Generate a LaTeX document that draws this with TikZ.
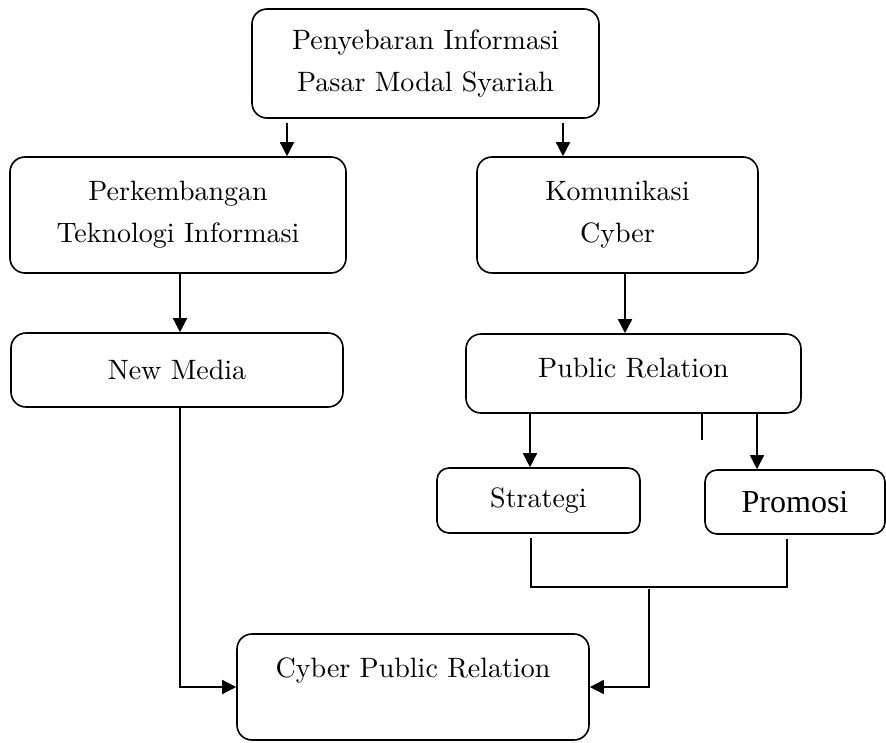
\documentclass[tikz,border=0pt]{standalone}
\usepackage{fontspec}
\usetikzlibrary{arrows.meta}
\setmainfont{lmroman10-regular}[Extension=.otf]
\newfontfamily\promfont{Liberation Serif}
\begin{document}
\begin{tikzpicture}[x=1pt,y=-1pt,
  box/.style={draw, line width=1.6pt, rounded corners=15pt, inner sep=0pt, align=center,
    font=\fontsize{28}{42}\selectfont},
  smallbox/.style={box, rounded corners=12pt},
  conn/.style={line width=1.5pt},
  arr/.style={conn, -{Triangle[length=14pt,width=14pt]}}]
\useasboundingbox (0,0) rectangle (886,742);
% boxes
\node[box, minimum width=347pt, minimum height=109pt] (top) at (425.5,63.5) {Penyebaran Informasi\\Pasar Modal Syariah};
\node[box, minimum width=336pt, minimum height=116pt] (pk) at (178,215) {Perkembangan\\Teknologi Informasi};
\node[box, minimum width=281pt, minimum height=116pt] (kom) at (617.5,215) {Komunikasi\\Cyber};
\node[box, minimum width=332pt, minimum height=74pt] (nm) at (177,370) {New Media};
\node[box, minimum width=335pt, minimum height=79pt, text height=10pt, text depth=3pt] (pr) at (633.5,373.5) {Public Relation};
\node[smallbox, minimum width=203pt, minimum height=65pt] (st) at (538.5,500.5) {Strategi};
\node[smallbox, minimum width=180pt, minimum height=64pt, font=\promfont\fontsize{32}{38}\selectfont] (pm) at (795,502) {Promosi};
\node[box, minimum width=352pt, minimum height=106pt, text height=10pt, text depth=30pt] (cpr) at (413,687) {Cyber Public Relation};
% helper coordinates
\coordinate (xa) at (287,0);
\coordinate (xb) at (563,0);
\coordinate (xc) at (180,0);
\coordinate (xd) at (625,0);
\coordinate (xe) at (530,0);
\coordinate (xf) at (757,0);
\coordinate (tickend) at (702,440);
\coordinate (xh) at (531,0);
\coordinate (xi) at (787,0);
\coordinate (jy) at (0,587);
\coordinate (jstart) at (649,589);
% connectors
\draw[arr, shorten <=4pt] (top.south -| xa) -- (pk.north -| xa);
\draw[arr, shorten <=4pt] (top.south -| xb) -- (kom.north -| xb);
\draw[arr] (pk.south -| xc) -- (nm.north -| xc);
\draw[arr] (kom.south -| xd) -- (pr.north -| xd);
\draw[arr] (pr.south -| xe) -- (st.north -| xe);
\draw[arr] (pr.south -| xf) -- (pm.north -| xf);
\draw[conn] (pr.south -| tickend) -- (tickend);
\draw[arr] (nm.south -| xc) |- (cpr.west);
\draw[conn] ([yshift=-4pt]st.south -| xh) -- (xh |- jy) -- (xi |- jy) -- ([yshift=-4pt]pm.south -| xi);
\draw[arr] (jstart) |- (cpr.east);
\end{tikzpicture}
\end{document}
